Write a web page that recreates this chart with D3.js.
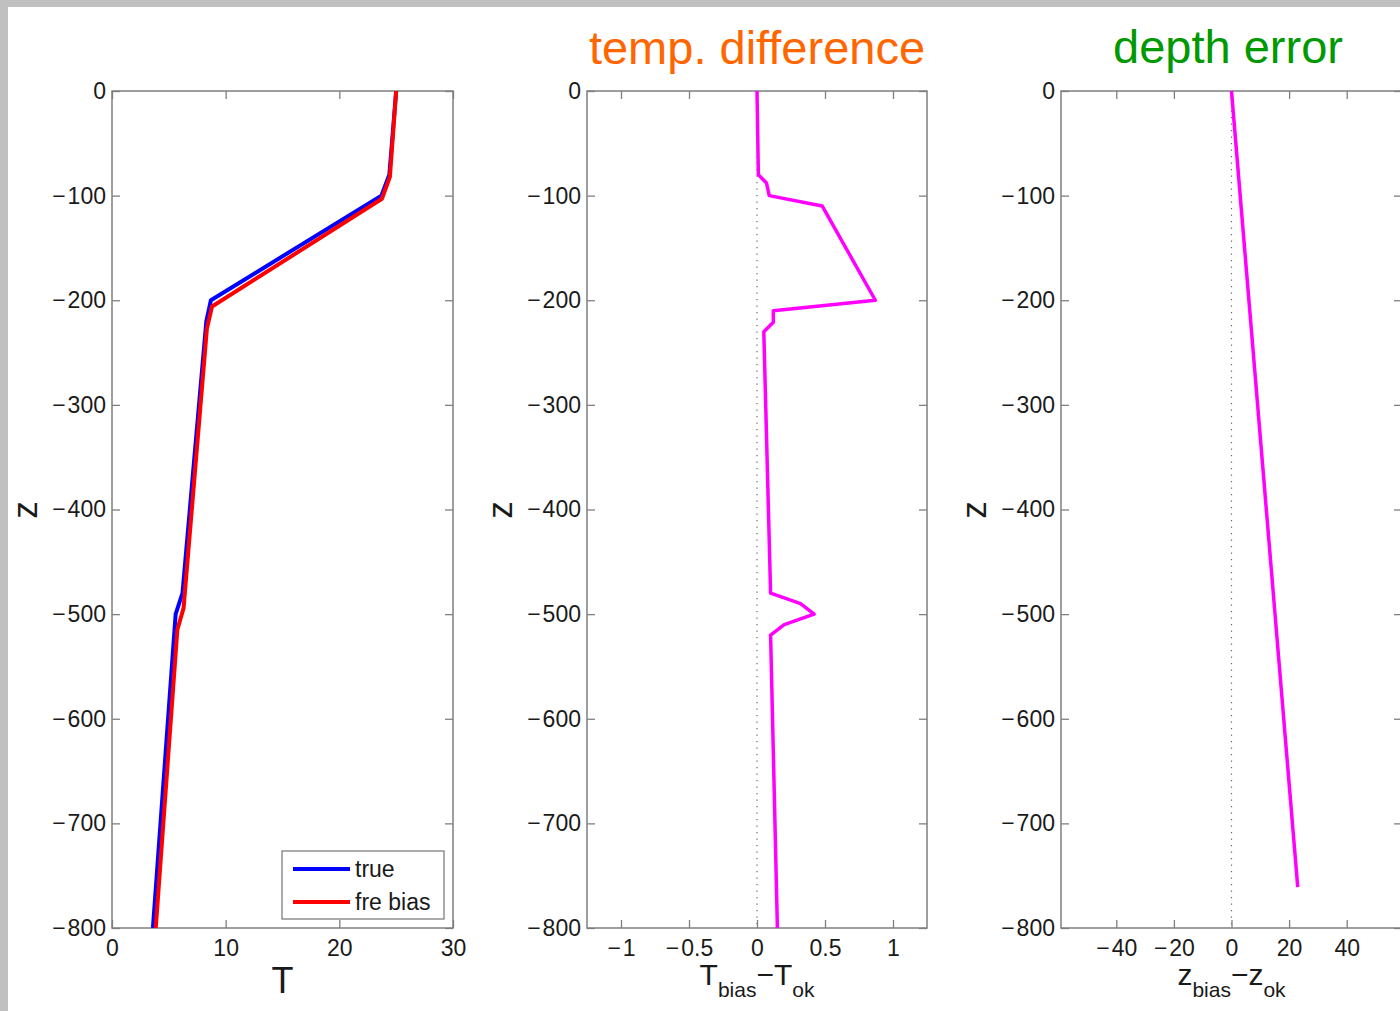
<!DOCTYPE html>
<html><head><meta charset="utf-8">
<script src="https://cdn.jsdelivr.net/npm/d3@7"></script>
<style>body{margin:0;background:#fff;}svg{display:block;}</style>
</head><body>
<svg id="chart" width="1400" height="1011"></svg>
<script>
// ---- data ----
const depthTicks = [-800,-700,-600,-500,-400,-300,-200,-100,0];
const tTicks = [0,10,20,30];
const dTTicks = [-1,-0.5,0,0.5,1];
const dZTicks = [-40,-20,0,20,40];

const trueZ = [0,-80,-100,-200,-220,-480,-500,-800];
const trueT = [25,24.4,23.7,8.7,8.3,6.2,5.6,3.6];
const biasZ = [0,-82,-103,-206,-227,-494,-515,-800];
const biasT = [25,24.45,23.75,8.8,8.35,6.3,5.75,3.85];

const diffZ = [0,-80,-88,-100,-110,-200,-210,-221,-230,-480,-490,-500,-510,-520,-800];
const diffT = [0,0.01,0.07,0.09,0.48,0.87,0.12,0.12,0.05,0.10,0.32,0.42,0.20,0.10,0.15];

const errZ = [0,-761];
const errV = [0,23];

const legendLabels = ["true","fre bias"];
const titles = ["temp. difference","depth error"];

// ---- layout ----
const svg = d3.select("#chart");
const font = "'Liberation Sans', Arial, Helvetica, sans-serif";
const axisCol = "#7f7f7f", textCol = "#1a1a1a";
svg.append("rect").attr("x",0).attr("y",0).attr("width",1400).attr("height",1011).attr("fill","#c0c0c0");
svg.append("rect").attr("x",8).attr("y",7).attr("width",1392).attr("height",1004).attr("fill","#fff");

const y = d3.scaleLinear().domain([-800,0]).range([928,91]);
const panels = [
  {x: d3.scaleLinear().domain([0,30]).range([112,453]), ticks: tTicks},
  {x: d3.scaleLinear().domain([-1.25,1.25]).range([587,927]), ticks: dTTicks},
  {x: d3.scaleLinear().domain([-59.2,59.2]).range([1061,1402]), ticks: dZTicks}
];
const base = d3.format("~g");
const fmt = d => base(d).replace("−","−\u200A");

panels.forEach((p,i)=>{
  const g = svg.append("g");
  p.g = g;
  const [x0,x1] = p.x.range();
  const [y1,y0] = y.range();
  if(i>0){
    g.append("line").attr("x1",p.x(0)).attr("x2",p.x(0)).attr("y1",y0).attr("y2",y1)
      .attr("stroke","#666").attr("stroke-width",1.2).attr("stroke-dasharray","1.2,5.3");
  }
  const styleAxis = sel=>{
    sel.select(".domain").remove();
    sel.selectAll("line").attr("stroke",axisCol).attr("stroke-width",1.3);
    sel.selectAll("text").attr("fill",textCol).style("font-family",font).style("font-size","23px");
  };
  g.append("g").attr("transform",`translate(0,${y1})`)
    .call(d3.axisBottom(p.x).tickValues(p.ticks).tickSize(-8).tickPadding(12).tickFormat(fmt)).call(styleAxis);
  g.append("g").attr("transform",`translate(0,${y0})`)
    .call(d3.axisTop(p.x).tickValues(p.ticks).tickSize(-8).tickFormat("")).call(styleAxis);
  g.append("g").attr("transform",`translate(${x0},0)`)
    .call(d3.axisLeft(y).tickValues(depthTicks).tickSize(-8).tickPadding(6).tickFormat(fmt)).call(styleAxis);
  g.append("g").attr("transform",`translate(${x1},0)`)
    .call(d3.axisRight(y).tickValues(depthTicks).tickSize(-8).tickFormat("")).call(styleAxis);
  g.append("rect").attr("x",x0).attr("y",y0).attr("width",x1-x0).attr("height",y1-y0)
    .attr("fill","none").attr("stroke",axisCol).attr("stroke-width",1.5);
  g.append("text").attr("transform",`translate(${x0-88},510) rotate(-90)`)
    .attr("text-anchor","middle").attr("dominant-baseline","central")
    .style("font-family",font).style("font-size","35px").attr("fill",textCol).text("z");
});

svg.append("clipPath").attr("id","clip1").append("rect").attr("x",112).attr("y",91).attr("width",341).attr("height",837);

const line = (xs,zs,xScale)=> d3.line().x((d,i)=>xScale(xs[i])).y((d,i)=>y(zs[i]))(zs);

// panel 1
const p1 = panels[0];
p1.g.append("path").attr("d",line(trueT,trueZ,p1.x)).attr("fill","none").attr("stroke","#0000ff").attr("stroke-width",4).attr("stroke-linejoin","round").attr("clip-path","url(#clip1)");
p1.g.append("path").attr("d",line(biasT,biasZ,p1.x)).attr("fill","none").attr("stroke","#ff0000").attr("stroke-width",4).attr("stroke-linejoin","round").attr("clip-path","url(#clip1)");
p1.g.append("text").attr("x",p1.x(15)).attr("y",993).attr("text-anchor","middle")
  .style("font-family",font).style("font-size","36px").attr("fill",textCol).text("T");

// legend
const lg = p1.g.append("g");
lg.append("rect").attr("x",282).attr("y",851).attr("width",162).attr("height",68).attr("fill","#fff").attr("stroke",axisCol).attr("stroke-width",1.3);
["#0000ff","#ff0000"].forEach((c,i)=>{
  lg.append("line").attr("x1",293).attr("x2",350).attr("y1",869+i*33).attr("y2",869+i*33).attr("stroke",c).attr("stroke-width",4);
  lg.append("text").attr("x",355).attr("y",877+i*33).style("font-family",font).style("font-size","23px").attr("fill",textCol).text(legendLabels[i]);
});

// panel 2
const p2 = panels[1];
p2.g.append("path").attr("d",line(diffT,diffZ,p2.x)).attr("fill","none").attr("stroke","#ff00ff").attr("stroke-width",3.5).attr("stroke-linejoin","round");
const lab2 = p2.g.append("text").attr("x",p2.x(0)).attr("y",985).attr("text-anchor","middle")
  .style("font-family",font).style("font-size","30px").attr("fill",textCol);
lab2.append("tspan").text("T");
lab2.append("tspan").attr("dy",12).style("font-size","21px").text("bias");
lab2.append("tspan").attr("dy",-12).text("−T");
lab2.append("tspan").attr("dy",12).style("font-size","21px").text("ok");

// panel 3
const p3 = panels[2];
p3.g.append("path").attr("d",line(errV,errZ,p3.x)).attr("fill","none").attr("stroke","#ff00ff").attr("stroke-width",3.5).attr("stroke-linejoin","round");
const lab3 = p3.g.append("text").attr("x",p3.x(0)).attr("y",985).attr("text-anchor","middle")
  .style("font-family",font).style("font-size","30px").attr("fill",textCol);
lab3.append("tspan").text("z");
lab3.append("tspan").attr("dy",12).style("font-size","21px").text("bias");
lab3.append("tspan").attr("dy",-12).text("−z");
lab3.append("tspan").attr("dy",12).style("font-size","21px").text("ok");

// titles
svg.append("text").attr("x",757).attr("y",64).attr("text-anchor","middle").style("font-family",font).style("font-size","47px").attr("fill","#ff6600").text(titles[0]);
svg.append("text").attr("x",1228).attr("y",63).attr("text-anchor","middle").style("font-family",font).style("font-size","47px").attr("fill","#009900").text(titles[1]);
</script>
</body></html>
